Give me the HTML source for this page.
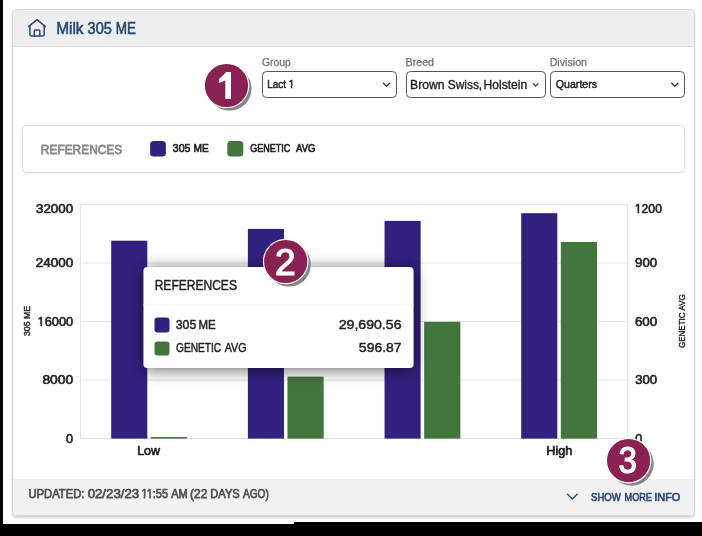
<!DOCTYPE html>
<html><head><meta charset="utf-8"><title>Milk 305 ME</title>
<style>
html,body{margin:0;padding:0;background:#fff;width:702px;height:536px;overflow:hidden}
svg{display:block;font-family:"Liberation Sans",sans-serif;will-change:transform}
</style></head>
<body>
<svg width="702" height="536" viewBox="0 0 702 536">
<defs>
  <filter id="cardsh" x="-5%" y="-5%" width="110%" height="110%">
    <feGaussianBlur in="SourceAlpha" stdDeviation="1.2"/>
    <feOffset dx="0" dy="1.5"/>
    <feComponentTransfer><feFuncA type="linear" slope="0.18"/></feComponentTransfer>
    <feMerge><feMergeNode/><feMergeNode in="SourceGraphic"/></feMerge>
  </filter>
  <filter id="tipsh" x="-30%" y="-60%" width="160%" height="220%">
    <feGaussianBlur in="SourceAlpha" stdDeviation="8"/>
    <feOffset dx="0" dy="1.5"/>
    <feComponentTransfer><feFuncA type="linear" slope="0.6"/></feComponentTransfer>
    <feMerge><feMergeNode/><feMergeNode in="SourceGraphic"/></feMerge>
  </filter>
  <clipPath id="cardclip"><rect x="13" y="10" width="681" height="505" rx="3.5"/></clipPath>
</defs>
<rect x="0" y="0" width="702" height="536" fill="#ffffff"/>

<!-- card -->
<rect x="12.5" y="9.5" width="682" height="506" rx="4" fill="#ffffff" stroke="#d9d9d9" stroke-width="1" filter="url(#cardsh)"/>
<g clip-path="url(#cardclip)">
  <rect x="13" y="10" width="681" height="36" fill="#eeeeee"/>
  <rect x="13" y="46" width="681" height="1" fill="#dcdcdc"/>
  <rect x="13" y="479" width="681" height="36" fill="#f1f1f1"/>
</g>

<!-- house icon -->
<g fill="none" stroke="#244a79" stroke-width="1.5" stroke-linecap="round" stroke-linejoin="round">
  <path d="M28.6,26.6 L37,19.6 L45.4,26.6"/>
  <path d="M29.9,25.6 V34.4 Q29.9,36.1 31.6,36.1 H42.5 Q44.2,36.1 44.2,34.4 V25.6"/>
  <path d="M34.3,36.1 V31.1 Q34.3,29.9 35.5,29.9 H38.6 Q39.8,29.9 39.8,31.1 V36.1"/>
</g>

<!-- selects -->
<g fill="#ffffff" stroke="#555555" stroke-width="1">
  <rect x="262.5" y="71.5" width="134" height="26" rx="4"/>
  <rect x="406.5" y="71.5" width="139" height="26" rx="4"/>
  <rect x="550.5" y="71.5" width="134" height="26" rx="4"/>
</g>
<g fill="none" stroke="#333" stroke-width="1.3" stroke-linecap="round" stroke-linejoin="round">
  <path d="M383.5,83.2 L386.6,86.3 L389.7,83.2"/>
  <path d="M533.2,83.6 L535.6,86 L538,83.6"/>
  <path d="M671.7,83.2 L674.8,86.3 L677.9,83.2"/>
</g>

<!-- references panel -->
<rect x="22.5" y="125.5" width="662" height="47" rx="4" fill="#ffffff" stroke="#dcdcdc" stroke-width="1"/>
<rect x="150.1" y="141.1" width="15.8" height="15.5" rx="3.6" fill="#32207f"/>
<rect x="227.3" y="141.1" width="16" height="15.5" rx="3.6" fill="#42763c"/>

<!-- chart grid -->
<g stroke="#e3e3e3" stroke-width="1">
  <line x1="80" y1="204.5" x2="628" y2="204.5"/>
  <line x1="80" y1="263" x2="627" y2="263"/>
  <line x1="80" y1="321.5" x2="627" y2="321.5"/>
  <line x1="80" y1="380" x2="627" y2="380"/>
  <line x1="80" y1="438.5" x2="628" y2="438.5"/>
  <line x1="80.5" y1="204" x2="80.5" y2="439"/>
  <line x1="627.5" y1="204" x2="627.5" y2="439"/>
</g>

<!-- bars -->
<g fill="#32207f">
  <rect x="111.20" y="240.7" width="36.1" height="197.90"/>
  <rect x="247.87" y="228.9" width="36.1" height="209.70"/>
  <rect x="384.54" y="220.9" width="36.1" height="217.70"/>
  <rect x="521.21" y="213.2" width="36.1" height="225.40"/>
</g>
<g fill="#42763c">
  <rect x="150.80" y="437.0" width="36.2" height="1.60"/>
  <rect x="287.47" y="376.6" width="36.2" height="62.00"/>
  <rect x="424.14" y="321.8" width="36.2" height="116.80"/>
  <rect x="560.81" y="242.0" width="36.2" height="196.60"/>
</g>

<!-- tooltip -->
<g filter="url(#tipsh)">
  <rect x="143.5" y="267" width="270" height="101" rx="4" fill="#ffffff"/>
</g>
<rect x="143.5" y="304.5" width="270" height="1" fill="#f0f0f0"/>
<rect x="154.5" y="317.4" width="15" height="15" rx="3" fill="#32207f"/>
<rect x="154.5" y="341.4" width="15" height="14" rx="3" fill="#42763c"/>

<!-- footer chevron -->
<path d="M567.5,494.3 L572.3,499.1 L577.1,494.3" fill="none" stroke="#2d4a78" stroke-width="1.4" stroke-linecap="round" stroke-linejoin="round"/>

<text x="56.14" y="33.62" font-size="15.73" font-weight="normal" fill="#264a73" stroke="#264a73" stroke-width="0.55" stroke-linejoin="round" textLength="27.43" lengthAdjust="spacingAndGlyphs">Milk</text>
<text x="87.54" y="33.62" font-size="15.73" font-weight="normal" fill="#264a73" stroke="#264a73" stroke-width="0.55" stroke-linejoin="round" textLength="24.31" lengthAdjust="spacingAndGlyphs">305</text>
<text x="115.69" y="33.62" font-size="15.73" font-weight="normal" fill="#264a73" stroke="#264a73" stroke-width="0.55" stroke-linejoin="round" textLength="20.34" lengthAdjust="spacingAndGlyphs">ME</text>
<text x="262.01" y="65.78" font-size="10.28" font-weight="normal" fill="#6f6f6f" stroke="#6f6f6f" stroke-width="0.25" stroke-linejoin="round" textLength="28.64" lengthAdjust="spacingAndGlyphs">Group</text>
<text x="405.57" y="65.78" font-size="10.28" font-weight="normal" fill="#6f6f6f" stroke="#6f6f6f" stroke-width="0.25" stroke-linejoin="round" textLength="28.50" lengthAdjust="spacingAndGlyphs">Breed</text>
<text x="549.67" y="65.78" font-size="10.28" font-weight="normal" fill="#6f6f6f" stroke="#6f6f6f" stroke-width="0.25" stroke-linejoin="round" textLength="37.40" lengthAdjust="spacingAndGlyphs">Division</text>
<text x="267.23" y="87.58" font-size="10.57" font-weight="normal" fill="#222222" stroke="#222222" stroke-width="0.45" stroke-linejoin="round" textLength="27.00" lengthAdjust="spacingAndGlyphs">Lact 1</text>
<text x="410.11" y="89.12" font-size="12.54" font-weight="normal" fill="#222222" stroke="#222222" stroke-width="0.35" stroke-linejoin="round" textLength="34.30" lengthAdjust="spacingAndGlyphs">Brown</text>
<text x="447.70" y="89.12" font-size="12.54" font-weight="normal" fill="#222222" stroke="#222222" stroke-width="0.35" stroke-linejoin="round" textLength="34.48" lengthAdjust="spacingAndGlyphs">Swiss,</text>
<text x="483.51" y="89.12" font-size="12.54" font-weight="normal" fill="#222222" stroke="#222222" stroke-width="0.35" stroke-linejoin="round" textLength="43.70" lengthAdjust="spacingAndGlyphs">Holstein</text>
<text x="555.80" y="87.88" font-size="10.72" font-weight="normal" fill="#222222" stroke="#222222" stroke-width="0.45" stroke-linejoin="round" textLength="41.29" lengthAdjust="spacingAndGlyphs">Quarters</text>
<text x="40.85" y="153.50" font-size="13.52" font-weight="normal" fill="#878787" stroke="#878787" stroke-width="0.8" stroke-linejoin="round" textLength="81.39" lengthAdjust="spacingAndGlyphs">REFERENCES</text>
<text x="172.81" y="151.58" font-size="10.57" font-weight="normal" fill="#222222" stroke="#222222" stroke-width="0.65" stroke-linejoin="round" textLength="17.55" lengthAdjust="spacingAndGlyphs">305</text>
<text x="193.51" y="151.58" font-size="10.57" font-weight="normal" fill="#222222" stroke="#222222" stroke-width="0.65" stroke-linejoin="round" textLength="15.24" lengthAdjust="spacingAndGlyphs">ME</text>
<text x="250.17" y="151.58" font-size="10.57" font-weight="normal" fill="#222222" stroke="#222222" stroke-width="0.65" stroke-linejoin="round" textLength="40.09" lengthAdjust="spacingAndGlyphs">GENETIC</text>
<text x="296.12" y="151.58" font-size="10.57" font-weight="normal" fill="#222222" stroke="#222222" stroke-width="0.65" stroke-linejoin="round" textLength="19.40" lengthAdjust="spacingAndGlyphs">AVG</text>
<text x="36.00" y="212.70" font-size="12.21" font-weight="normal" fill="#222222" stroke="#222222" stroke-width="0.6" stroke-linejoin="round" textLength="37.18" lengthAdjust="spacingAndGlyphs">32000</text>
<text x="35.73" y="266.70" font-size="12.21" font-weight="normal" fill="#222222" stroke="#222222" stroke-width="0.6" stroke-linejoin="round" textLength="37.46" lengthAdjust="spacingAndGlyphs">24000</text>
<text x="37.60" y="326.30" font-size="12.21" font-weight="normal" fill="#222222" stroke="#222222" stroke-width="0.6" stroke-linejoin="round" textLength="35.56" lengthAdjust="spacingAndGlyphs">16000</text>
<text x="42.45" y="383.70" font-size="12.21" font-weight="normal" fill="#222222" stroke="#222222" stroke-width="0.6" stroke-linejoin="round" textLength="30.75" lengthAdjust="spacingAndGlyphs">8000</text>
<text x="66.12" y="443.10" font-size="12.21" font-weight="normal" fill="#222222" stroke="#222222" stroke-width="0.6" stroke-linejoin="round" textLength="7.04" lengthAdjust="spacingAndGlyphs">0</text>
<text x="634.74" y="212.70" font-size="12.21" font-weight="normal" fill="#222222" stroke="#222222" stroke-width="0.6" stroke-linejoin="round" textLength="27.20" lengthAdjust="spacingAndGlyphs">1200</text>
<text x="635.07" y="266.70" font-size="12.21" font-weight="normal" fill="#222222" stroke="#222222" stroke-width="0.6" stroke-linejoin="round" textLength="22.00" lengthAdjust="spacingAndGlyphs">900</text>
<text x="634.93" y="326.30" font-size="12.21" font-weight="normal" fill="#222222" stroke="#222222" stroke-width="0.6" stroke-linejoin="round" textLength="22.35" lengthAdjust="spacingAndGlyphs">600</text>
<text x="635.20" y="383.70" font-size="12.21" font-weight="normal" fill="#222222" stroke="#222222" stroke-width="0.6" stroke-linejoin="round" textLength="21.97" lengthAdjust="spacingAndGlyphs">300</text>
<text x="635.22" y="443.10" font-size="12.21" font-weight="normal" fill="#222222" stroke="#222222" stroke-width="0.6" stroke-linejoin="round" textLength="7.04" lengthAdjust="spacingAndGlyphs">0</text>
<text x="137.16" y="454.65" font-size="12.57" font-weight="normal" fill="#222222" stroke="#222222" stroke-width="0.7" stroke-linejoin="round" textLength="22.80" lengthAdjust="spacingAndGlyphs">Low</text>
<text x="546.34" y="454.65" font-size="12.57" font-weight="normal" fill="#222222" stroke="#222222" stroke-width="0.7" stroke-linejoin="round" textLength="25.92" lengthAdjust="spacingAndGlyphs">High</text>
<text x="154.66" y="289.77" font-size="14.21" font-weight="normal" fill="#222222" stroke="#222222" stroke-width="0.45" stroke-linejoin="round" textLength="82.26" lengthAdjust="spacingAndGlyphs">REFERENCES</text>
<text x="175.76" y="328.57" font-size="12.03" font-weight="normal" fill="#222222" stroke="#222222" stroke-width="0.45" stroke-linejoin="round" textLength="20.46" lengthAdjust="spacingAndGlyphs">305</text>
<text x="198.41" y="328.57" font-size="12.03" font-weight="normal" fill="#222222" stroke="#222222" stroke-width="0.45" stroke-linejoin="round" textLength="17.19" lengthAdjust="spacingAndGlyphs">ME</text>
<text x="176.02" y="352.38" font-size="12.03" font-weight="normal" fill="#222222" stroke="#222222" stroke-width="0.45" stroke-linejoin="round" textLength="45.19" lengthAdjust="spacingAndGlyphs">GENETIC</text>
<text x="224.72" y="352.38" font-size="12.03" font-weight="normal" fill="#222222" stroke="#222222" stroke-width="0.45" stroke-linejoin="round" textLength="21.88" lengthAdjust="spacingAndGlyphs">AVG</text>
<text x="338.72" y="329.47" font-size="13.34" font-weight="normal" fill="#222222" stroke="#222222" stroke-width="0.45" stroke-linejoin="round" textLength="62.77" lengthAdjust="spacingAndGlyphs">29,690.56</text>
<text x="358.87" y="352.27" font-size="13.34" font-weight="normal" fill="#222222" stroke="#222222" stroke-width="0.45" stroke-linejoin="round" textLength="42.75" lengthAdjust="spacingAndGlyphs">596.87</text>
<text transform="rotate(-90)" x="-336.06" y="30.00" font-size="9.01" font-weight="normal" fill="#222222" stroke="#222222" stroke-width="0.4" stroke-linejoin="round" textLength="30.19" lengthAdjust="spacingAndGlyphs">305 ME</text>
<text transform="rotate(-90)" x="-348.10" y="685.40" font-size="9.59" font-weight="normal" fill="#222222" stroke="#222222" stroke-width="0.4" stroke-linejoin="round" textLength="53.84" lengthAdjust="spacingAndGlyphs">GENETIC AVG</text>
<text x="28.49" y="498.43" font-size="12.25" font-weight="normal" fill="#525252" stroke="#525252" stroke-width="0.75" stroke-linejoin="round" textLength="55.92" lengthAdjust="spacingAndGlyphs">UPDATED:</text>
<text x="87.68" y="498.43" font-size="12.25" font-weight="normal" fill="#525252" stroke="#525252" stroke-width="0.75" stroke-linejoin="round" textLength="51.42" lengthAdjust="spacingAndGlyphs">02/23/23</text>
<text x="141.62" y="498.43" font-size="12.25" font-weight="normal" fill="#525252" stroke="#525252" stroke-width="0.75" stroke-linejoin="round" textLength="26.30" lengthAdjust="spacingAndGlyphs">11:55</text>
<text x="171.28" y="498.43" font-size="12.25" font-weight="normal" fill="#525252" stroke="#525252" stroke-width="0.75" stroke-linejoin="round" textLength="16.45" lengthAdjust="spacingAndGlyphs">AM</text>
<text x="190.06" y="498.43" font-size="12.25" font-weight="normal" fill="#525252" stroke="#525252" stroke-width="0.75" stroke-linejoin="round" textLength="17.32" lengthAdjust="spacingAndGlyphs">(22</text>
<text x="210.29" y="498.43" font-size="12.25" font-weight="normal" fill="#525252" stroke="#525252" stroke-width="0.75" stroke-linejoin="round" textLength="29.45" lengthAdjust="spacingAndGlyphs">DAYS</text>
<text x="243.07" y="498.43" font-size="12.25" font-weight="normal" fill="#525252" stroke="#525252" stroke-width="0.75" stroke-linejoin="round" textLength="25.68" lengthAdjust="spacingAndGlyphs">AGO)</text>
<text x="590.97" y="500.65" font-size="11.41" font-weight="normal" fill="#2d4a78" stroke="#2d4a78" stroke-width="0.7" stroke-linejoin="round" textLength="29.93" lengthAdjust="spacingAndGlyphs">SHOW</text>
<text x="624.52" y="500.65" font-size="11.41" font-weight="normal" fill="#2d4a78" stroke="#2d4a78" stroke-width="0.7" stroke-linejoin="round" textLength="27.47" lengthAdjust="spacingAndGlyphs">MORE</text>
<text x="654.16" y="500.65" font-size="11.41" font-weight="normal" fill="#2d4a78" stroke="#2d4a78" stroke-width="0.7" stroke-linejoin="round" textLength="26.21" lengthAdjust="spacingAndGlyphs">INFO</text>

<!-- one-glyph base cover -->
<rect x="288.94" y="85.87" width="2.04" height="2.94" fill="#ffffff"/>
<rect x="292.31" y="85.87" width="1.96" height="2.94" fill="#ffffff"/>
<rect x="37.98" y="324.39" width="2.54" height="3.21" fill="#ffffff"/>
<rect x="42.25" y="324.39" width="2.44" height="3.21" fill="#ffffff"/>
<rect x="635.07" y="210.79" width="2.45" height="3.21" fill="#ffffff"/>
<rect x="639.20" y="210.79" width="2.35" height="3.21" fill="#ffffff"/>
<rect x="141.66" y="496.44" width="1.95" height="3.37" fill="#f1f1f1"/>
<rect x="145.19" y="496.44" width="1.87" height="3.37" fill="#f1f1f1"/>
<rect x="146.98" y="496.44" width="2.20" height="3.37" fill="#f1f1f1"/>
<rect x="150.89" y="496.44" width="2.12" height="3.37" fill="#f1f1f1"/>

<!-- markers -->
<g>
  <circle cx="229.6" cy="88.6" r="22" fill="#878787"/>
  <circle cx="226.5" cy="85.5" r="22.2" fill="#892152" stroke="#ffffff" stroke-width="1.2"/>
  <path d="M226.3,71.9 H231 V99 H225.3 V80.4 L218.9,83 V79.3 Z" fill="#ffffff"/>
</g>
<g>
  <circle cx="288.8" cy="264.6" r="22" fill="#878787"/>
  <circle cx="285.7" cy="261.5" r="22.2" fill="#892152" stroke="#ffffff" stroke-width="1.2"/>
  <text x="285.3" y="274.6" font-size="37.2" font-weight="normal" fill="#ffffff" stroke="#ffffff" stroke-width="1.2" text-anchor="middle">2</text>
</g>
<g>
  <circle cx="631.7" cy="463.7" r="22" fill="#878787"/>
  <circle cx="628.6" cy="460.6" r="22.2" fill="#892152" stroke="#ffffff" stroke-width="1.2"/>
  <text x="627.8" y="473.1" font-size="37.2" textLength="18.4" lengthAdjust="spacingAndGlyphs" font-weight="normal" fill="#ffffff" stroke="#ffffff" stroke-width="1.2" text-anchor="middle">3</text>
</g>

<!-- black screenshot edges -->
<rect x="0" y="0" width="3" height="536" fill="#000000"/>
<rect x="0" y="524" width="294" height="12" fill="#000000"/>
<rect x="294" y="522" width="408" height="14" fill="#000000"/>
</svg>
</body></html>
